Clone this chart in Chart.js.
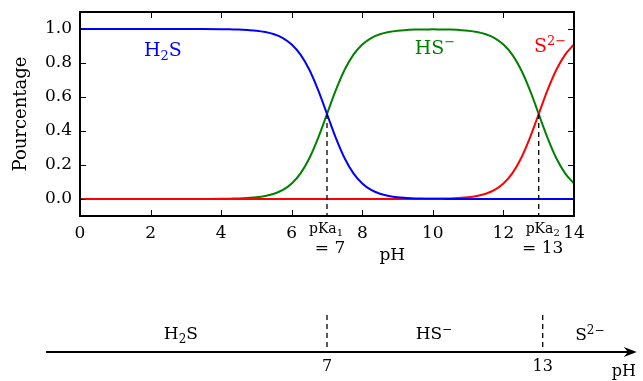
<!DOCTYPE html>
<html>
<head>
<meta charset="utf-8">
<script src="https://cdn.jsdelivr.net/npm/chart.js@4"></script>
<style>
  html, body { margin: 0; padding: 0; background: #fff; }
</style>
</head>
<body>
<canvas id="chart" width="643" height="381"></canvas>
<script>
const PH   = [0, 1, 2, 3, 3.5, 4, 4.25, 4.5, 4.75, 5, 5.25, 5.5, 5.75, 6, 6.25, 6.5, 6.75, 7, 7.25, 7.5, 7.75, 8, 8.25, 8.5, 8.75, 9, 9.25, 9.5, 9.75, 10, 10.25, 10.5, 10.75, 11, 11.25, 11.5, 11.75, 12, 12.25, 12.5, 12.75, 13, 13.25, 13.5, 13.75, 14];
const H2S  = [1, 1, 1, 1, 1, 0.999, 0.998, 0.997, 0.994, 0.990, 0.982, 0.969, 0.947, 0.909, 0.849, 0.760, 0.640, 0.500, 0.360, 0.240, 0.151, 0.091, 0.053, 0.031, 0.018, 0.010, 0.006, 0.003, 0.002, 0.001, 0.001, 0, 0, 0, 0, 0, 0, 0, 0, 0, 0, 0, 0, 0, 0, 0];
const HS   = [0, 0, 0, 0, 0, 0.001, 0.002, 0.003, 0.006, 0.010, 0.018, 0.031, 0.053, 0.091, 0.151, 0.240, 0.360, 0.500, 0.640, 0.760, 0.849, 0.909, 0.947, 0.969, 0.982, 0.990, 0.994, 0.997, 0.997, 0.998, 0.997, 0.997, 0.994, 0.990, 0.982, 0.969, 0.947, 0.909, 0.849, 0.760, 0.640, 0.500, 0.360, 0.240, 0.151, 0.091];
const S2   = [0, 0, 0, 0, 0, 0, 0, 0, 0, 0, 0, 0, 0, 0, 0, 0, 0, 0, 0, 0, 0, 0, 0, 0, 0, 0, 0, 0, 0.001, 0.001, 0.002, 0.003, 0.006, 0.010, 0.018, 0.031, 0.053, 0.091, 0.151, 0.240, 0.360, 0.500, 0.640, 0.760, 0.849, 0.909];

const X_TICKS = [0, 2, 4, 6, 7, 8, 10, 12, 13, 14];
const Y_TICKS = [0, 0.2, 0.4, 0.6, 0.8, 1.0];
const PKA = [7, 13];

const FONT = 'DejaVu Serif';

const pts = vals => PH.map((x, i) => ({ x, y: vals[i] }));

// text with sub/superscripts, centered on x, baseline y
function rich(ctx, parts, x, y, size, color) {
    ctx.save();
    ctx.fillStyle = color;
    ctx.textBaseline = 'alphabetic';
    ctx.textAlign = 'left';
    const small = Math.round(size * 0.7);
    let w = 0;
    parts.forEach(([t, m]) => {
        ctx.font = `${m ? small : size}px "${FONT}"`;
        w += ctx.measureText(t).width;
    });
    let cx = x - w / 2;
    parts.forEach(([t, m]) => {
        ctx.font = `${m ? small : size}px "${FONT}"`;
        const dy = m === -1 ? size * 0.22 : m === 1 ? -size * 0.38 : 0;
        ctx.fillText(t, cx, y + dy);
        cx += ctx.measureText(t).width;
    });
    ctx.restore();
}

const decor = {
    id: 'decor',
    afterDraw(chart) {
        const { ctx, chartArea: a, scales: { x, y } } = chart;
        ctx.save();
        ctx.strokeStyle = '#000';

        // inward ticks on all four sides
        ctx.lineWidth = 1;
        ctx.beginPath();
        X_TICKS.filter(v => !PKA.includes(v)).forEach(v => {
            const px = Math.round(x.getPixelForValue(v)) + 0.5;
            ctx.moveTo(px, a.bottom); ctx.lineTo(px, a.bottom - 6);
            ctx.moveTo(px, a.top);    ctx.lineTo(px, a.top + 6);
        });
        Y_TICKS.forEach(v => {
            const py = Math.round(y.getPixelForValue(v)) + 0.5;
            ctx.moveTo(a.left, py);  ctx.lineTo(a.left + 6, py);
            ctx.moveTo(a.right, py); ctx.lineTo(a.right - 6, py);
        });
        ctx.stroke();

        // pKa dashed guides
        ctx.setLineDash([5, 4]);
        ctx.lineWidth = 1.3;
        ctx.beginPath();
        PKA.forEach(v => {
            const px = x.getPixelForValue(v);
            ctx.moveTo(px, y.getPixelForValue(0.5));
            ctx.lineTo(px, a.bottom);
        });
        ctx.stroke();
        ctx.setLineDash([]);

        // frame
        ctx.lineWidth = 2;
        ctx.strokeRect(a.left, a.top, a.right - a.left, a.bottom - a.top);

        // pKa tick labels
        rich(ctx, [['pKa'], ['1', -1]], x.getPixelForValue(7) - 1, a.bottom + 17, 14, '#000');
        rich(ctx, [['= 7']], x.getPixelForValue(7) + 3, a.bottom + 37, 17, '#000');
        rich(ctx, [['pKa'], ['2', -1]], x.getPixelForValue(13) + 4, a.bottom + 17, 14, '#000');
        rich(ctx, [['= 13']], x.getPixelForValue(13) + 4, a.bottom + 37, 17, '#000');

        // species labels
        rich(ctx, [['H'], ['2', -1], ['S']], x.getPixelForValue(2.35), y.getPixelForValue(0.84), 19, '#0000ff');
        rich(ctx, [['HS'], ['\u2212', 1]], x.getPixelForValue(10.06), y.getPixelForValue(0.855), 19, '#008000');
        rich(ctx, [['S'], ['2\u2212', 1]], x.getPixelForValue(13.32), y.getPixelForValue(0.865), 19, '#ff0000');

        // x title
        ctx.fillStyle = '#000';
        ctx.font = `17px "${FONT}"`;
        ctx.textAlign = 'center';
        ctx.textBaseline = 'middle';
        ctx.fillText('pH', x.getPixelForValue(8.85), 256);

        // predominance diagram below
        const lineY = 352;
        const x0 = x.getPixelForValue(-0.96), x1 = x.getPixelForValue(15.78);
        ctx.lineWidth = 2;
        ctx.beginPath();
        ctx.moveTo(x0, lineY); ctx.lineTo(x1 - 6, lineY);
        ctx.stroke();
        ctx.beginPath();
        ctx.moveTo(x1, lineY);
        ctx.lineTo(x1 - 13, lineY - 5);
        ctx.lineTo(x1 - 9, lineY);
        ctx.lineTo(x1 - 13, lineY + 5);
        ctx.closePath();
        ctx.fill();

        const low = v => x.getPixelForValue(v) + (v === 13 ? 4 : 0);
        ctx.setLineDash([5, 4]);
        ctx.lineWidth = 1.3;
        ctx.beginPath();
        PKA.forEach(v => {
            ctx.moveTo(low(v), 315); ctx.lineTo(low(v), lineY);
        });
        ctx.stroke();
        ctx.setLineDash([]);

        ctx.font = `16px "${FONT}"`;
        PKA.forEach(v => ctx.fillText(String(v), low(v), 367));
        ctx.fillText('pH', x.getPixelForValue(15.41), 372);

        rich(ctx, [['H'], ['2', -1], ['S']], x.getPixelForValue(2.86), 339, 17, '#000');
        rich(ctx, [['HS'], ['\u2212', 1]], x.getPixelForValue(10.03), 339, 17, '#000');
        rich(ctx, [['S'], ['2\u2212', 1]], x.getPixelForValue(14.45), 340, 17, '#000');

        ctx.restore();
    }
};

new Chart(document.getElementById('chart'), {
    type: 'line',
    data: {
        datasets: [
            { label: 'H2S', data: pts(H2S), borderColor: '#0000ff', order: 0 },
            { label: 'S2-', data: pts(S2),  borderColor: '#ff0000', order: 1 },
            { label: 'HS-', data: pts(HS),  borderColor: '#008000', order: 2 },
        ]
    },
    options: {
        responsive: false,
        animation: false,
        devicePixelRatio: 1,
        layout: { padding: { top: 12, right: 69, left: 0, bottom: 0 } },
        elements: {
            line: { borderWidth: 2, cubicInterpolationMode: 'monotone', fill: false },
            point: { radius: 0 }
        },
        plugins: {
            legend: { display: false },
            tooltip: { enabled: false }
        },
        scales: {
            x: {
                type: 'linear',
                min: 0,
                max: 14,
                afterFit: s => { s.height = 165; s.paddingLeft = 0; s.paddingRight = 0; },
                afterBuildTicks: s => { s.ticks = X_TICKS.map(value => ({ value })); },
                grid: { display: false, drawTicks: false },
                border: { display: false },
                ticks: {
                    autoSkip: false,
                    maxRotation: 0,
                    padding: 7,
                    color: '#000',
                    font: { family: FONT, size: 17 },
                    callback: v => PKA.includes(v) ? '' : String(v)
                }
            },
            y: {
                min: -0.1,
                max: 1.1,
                afterFit: s => { s.width = 80; s.paddingTop = 0; s.paddingBottom = 0; },
                afterBuildTicks: s => { s.ticks = Y_TICKS.map(value => ({ value })); },
                grid: { display: false, drawTicks: false },
                border: { display: false },
                ticks: {
                    padding: 8,
                    color: '#000',
                    font: { family: FONT, size: 17 },
                    callback: v => v.toFixed(1)
                },
                title: {
                    display: true,
                    text: 'Pourcentage',
                    color: '#000',
                    font: { family: FONT, size: 18 },
                    padding: { top: 11, bottom: 0 }
                }
            }
        }
    },
    plugins: [decor]
});
</script>
</body>
</html>
